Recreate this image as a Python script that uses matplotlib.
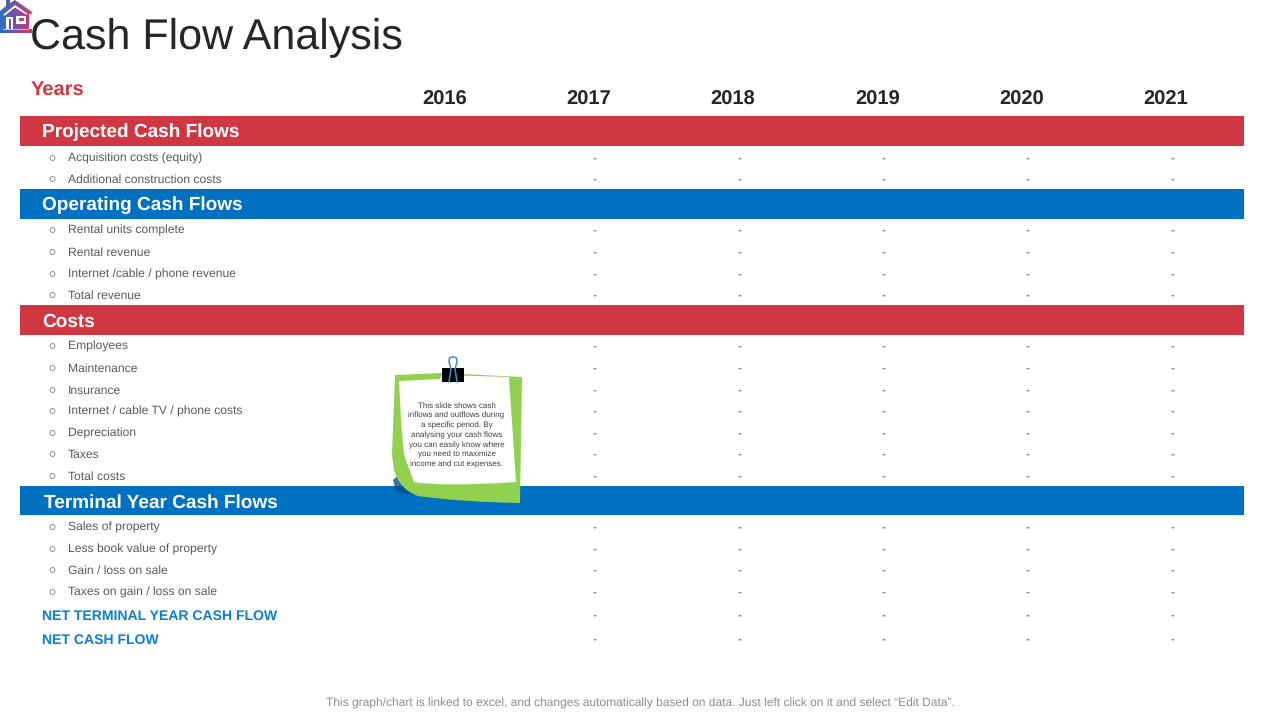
import matplotlib
matplotlib.use("Agg")
import matplotlib.pyplot as plt
import numpy as np
from matplotlib.patches import Polygon, Rectangle, PathPatch, Ellipse
from matplotlib.path import Path
from matplotlib.colors import LinearSegmentedColormap

plt.rcParams['font.family'] = ['Liberation Sans', 'DejaVu Sans']
plt.rcParams['text.hinting'] = 'no_hinting'

# Dados
anos = ['2016', '2017', '2018', '2019', '2020', '2021']
valores = ['', '-', '-', '-', '-', '-']

secoes = ['Projected Cash Flows', 'Operating Cash Flows', 'Costs', 'Terminal Year Cash Flows']
itens_projected = ['Acquisition costs (equity)', 'Additional construction costs']
itens_operating = ['Rental units complete', 'Rental revenue', 'Internet /cable / phone revenue', 'Total revenue']
itens_costs = ['Employees', 'Maintenance', 'Insurance', 'Internet / cable TV / phone costs',
               'Depreciation', 'Taxes', 'Total costs']
itens_terminal = ['Sales of property', 'Less book value of property', 'Gain / loss on sale',
                  'Taxes on gain / loss on sale']
totais = ['NET TERMINAL YEAR CASH FLOW', 'NET CASH FLOW']

nota = ('This slide shows cash\ninflows and outflows during\na specific period. By\n'
        'analysing your cash flows\nyou can easily know where\nyou need to maximize\n'
        'income and cut expenses.')
rodape = 'This graph/chart is linked to excel, and changes automatically based on data. Just left click on it and select \u201cEdit Data\u201d.'

# layout, em pixels da imagem
VERMELHO = '#cf3742'
AZUL = '#0070c0'
CINZA = '#595959'
VERDE = '#92d050'
x_anos = [445, 589, 733, 878, 1022, 1166]
x_valores = [None, 594, 739, 883, 1027, 1172]
y_secoes = [131, 204, 320, 501]
y_projected = [158, 179]
y_operating = [230, 252, 274, 295]
y_costs = [346, 368, 390, 411, 433, 454, 476]
y_terminal = [527, 549, 570, 592]
y_totais = [615, 639]

fig = plt.figure(figsize=(12.8, 7.2), dpi=100)
ax = fig.add_axes([0, 0, 1, 1])
ax.set_xlim(0, 1280)
ax.set_ylim(720, 0)
ax.axis('off')

ax.text(30, 37.5, 'Cash Flow Analysis', fontsize=31, color='#262626', va='center', ha='left')
ax.text(31, 90, 'Years', fontsize=14.5, color=VERMELHO, fontweight='bold', va='center')

for x, ano in zip(x_anos, anos):
    ax.text(x, 100, ano, fontsize=14.5, fontweight='bold', color='#262626', ha='center', va='center')

# faixas das secoes
for i, (secao, y) in enumerate(zip(secoes, y_secoes)):
    cor = VERMELHO if i % 2 == 0 else AZUL
    altura = 29 if i == 3 else 30
    ax.add_patch(Rectangle((20, y - 15), 1224, altura, color=cor, lw=0, zorder=1))
    x_txt = 44 if i == 3 else 42
    ax.text(x_txt, y + 1.5, secao, fontsize=13.65, fontweight='bold', color='white', va='center', zorder=2)

# linhas da tabela
nomes = itens_projected + itens_operating + itens_costs + itens_terminal
ys = y_projected + y_operating + y_costs + y_terminal
for nome, y in zip(nomes, ys):
    ax.add_patch(Ellipse((52.5, y), 5, 5, fc='white', ec='#7f7f7f', lw=0.6))
    ax.text(68, y + 0.5, nome, fontsize=8.7, color=CINZA, va='center')
    for x, v in zip(x_valores, valores):
        if v:
            ax.text(x, y + 1, v, fontsize=8.6, color=CINZA, ha='center', va='center')

for nome, y in zip(totais, y_totais):
    ax.text(42, y + 1, nome, fontsize=10.1, fontweight='bold', color='#0b7fd0', va='center')
    for x, v in zip(x_valores, valores):
        if v:
            ax.text(x, y + 1, v, fontsize=8.6, color=CINZA, ha='center', va='center')

ax.text(640, 703, rodape, fontsize=8.65, color='#8c8c8c', ha='center', va='center')

# nota verde com clipe
sombra = Polygon([[393, 480], [396, 492], [440, 498], [425, 488], [404, 470]],
                 fc='#0a4f86', ec='none', alpha=0.8, zorder=3)
ax.add_patch(sombra)
codigos_verde = [Path.MOVETO, Path.LINETO, Path.LINETO, Path.LINETO, Path.CURVE3, Path.CURVE3,
                 Path.CURVE3, Path.CURVE3, Path.LINETO, Path.CLOSEPOLY]
verde = Path([(395, 375), (442, 373), (522, 377), (520, 503), (460, 502), (418, 496),
              (400, 490), (394, 470), (392, 455), (395, 375)], codigos_verde)
ax.add_patch(PathPatch(verde, fc=VERDE, ec='none', zorder=4))
codigos_papel = [Path.MOVETO, Path.LINETO, Path.LINETO, Path.LINETO, Path.LINETO, Path.CURVE3,
                 Path.CURVE3, Path.LINETO, Path.LINETO, Path.CLOSEPOLY]
papel = Path([(399, 381), (440, 379), (442, 375), (509, 377), (516, 482), (440, 487),
              (414, 482), (404, 455), (401, 420), (399, 381)], codigos_papel)
ax.add_patch(PathPatch(papel, fc='white', ec='none', zorder=5))
ax.text(456.5, 435, nota, fontsize=5.75, color='#404040', ha='center', va='center',
        linespacing=1.41, zorder=6)

# clipe
ax.add_patch(Polygon([[442, 368], [464, 368], [464, 382], [442, 382]], fc='black', ec='none', zorder=7))
ax.plot([449, 451, 449, 449.5, 452, 454, 456.5, 457, 455, 457],
        [382, 369, 362, 358, 357, 357, 358, 362, 369, 382],
        color='#3f8fd0', lw=1.1, zorder=8, solid_joinstyle='round')

# icone da casa, com gradiente azul -> vermelho
gradiente = LinearSegmentedColormap.from_list('casa', ['#2f6fc0', '#7a4fa8', '#d43a52'])
casa = Path([(0, 11), (6, 6), (6, 0), (10, 0), (10, 3), (15, 0), (32, 12), (31, 15), (29, 13.5), (29, 29),
             (32, 29), (32, 33), (0, 33), (0, 14), (0, 11)])
img = ax.imshow(np.linspace(0, 1, 64).reshape(1, -1),
                extent=(0, 32, 33, 0), cmap=gradiente, aspect='auto', zorder=8)
ax.set_xlim(0, 1280)
ax.set_ylim(720, 0)
img.set_clip_path(PathPatch(casa, transform=ax.transData))
ax.add_patch(Polygon([[3, 15], [15, 5], [28, 14], [26, 14.5], [15, 7.5], [5, 15.5]], fc='white', ec='none', zorder=9))
ax.add_patch(Rectangle((6, 17), 7, 12, fc='white', ec='none', zorder=9))
ax.add_patch(Rectangle((8.5, 19), 2.5, 10, fc='#5a5ab0', ec='none', zorder=10))
ax.add_patch(Rectangle((16, 16), 10, 8, fc='white', ec='none', zorder=9))
ax.add_patch(Rectangle((18.5, 18), 5, 3, fc='#b04580', ec='none', zorder=10))
ax.add_patch(Rectangle((3, 29), 26, 1, fc='white', ec='none', alpha=0.6, zorder=9))

fig.savefig('out.png', dpi=100)
